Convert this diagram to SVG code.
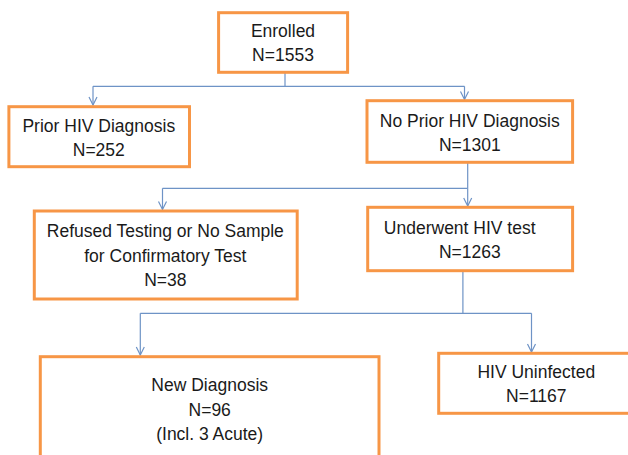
<svg xmlns="http://www.w3.org/2000/svg" width="628" height="455" viewBox="0 0 628 455">
<defs>
<style>
.box{fill:#fff;stroke:#F79646;stroke-width:3}
.t{font-family:"Liberation Sans",Arial,sans-serif;font-size:17.5px;fill:#1a1a1a;text-anchor:middle}
.c{fill:none;stroke:#6E93C6;stroke-width:1.2}
</style>
<marker id="ar" viewBox="0 0 12 12" refX="11" refY="6" markerWidth="12" markerHeight="12" markerUnits="userSpaceOnUse" orient="auto">
<path d="M3,2 L11,6 L3,10" fill="none" stroke="#6E93C6" stroke-width="1.2"/>
</marker>
</defs>
<rect width="628" height="455" fill="#fff"/>
<g id="connectors">
<path class="c" d="M285,72 V86.3"/>
<path class="c" d="M93,86.3 H464.5"/>
<path class="c" d="M93,86.3 V105" marker-end="url(#ar)"/>
<path class="c" d="M464.5,86.3 V99.5" marker-end="url(#ar)"/>
<path class="c" d="M467.7,162 V188.3"/>
<path class="c" d="M162.5,188.3 H467.7"/>
<path class="c" d="M162.5,188.3 V209.5" marker-end="url(#ar)"/>
<path class="c" d="M467.7,188.3 V206" marker-end="url(#ar)"/>
<path class="c" d="M462.9,271 V313.3"/>
<path class="c" d="M140.3,313.3 H531.5"/>
<path class="c" d="M140.3,313.3 V355" marker-end="url(#ar)"/>
<path class="c" d="M531.5,313.3 V352" marker-end="url(#ar)"/>
</g>
<g id="enrolled">
<rect class="box" x="218.6" y="12.7" width="129" height="59.6"/>
<text class="t" x="283" y="37.3">Enrolled</text>
<text class="t" x="283" y="61">N=1553</text>
</g>
<g id="prior">
<rect class="box" x="8.9" y="106.7" width="180.6" height="60"/>
<text class="t" x="98.8" y="131.7">Prior HIV Diagnosis</text>
<text class="t" x="98.8" y="156">N=252</text>
</g>
<g id="noprior">
<rect class="box" x="367" y="100.7" width="205.6" height="61.6"/>
<text class="t" x="469.8" y="126.7">No Prior HIV Diagnosis</text>
<text class="t" x="469.8" y="150.7">N=1301</text>
</g>
<g id="refused">
<rect class="box" x="34.3" y="211" width="262.9" height="88"/>
<text class="t" x="165.3" y="237.3">Refused Testing or No Sample</text>
<text class="t" x="165.3" y="261.7">for Confirmatory Test</text>
<text class="t" x="165.3" y="286">N=38</text>
</g>
<g id="underwent">
<rect class="box" x="367.7" y="207.3" width="204.9" height="63.4"/>
<text class="t" x="459.7" y="234">Underwent HIV test</text>
<text class="t" x="469.8" y="258.3">N=1263</text>
</g>
<g id="newdiag">
<rect class="box" x="40.3" y="356.7" width="338.7" height="120"/>
<text class="t" x="209.7" y="390.7">New Diagnosis</text>
<text class="t" x="209.7" y="416">N=96</text>
<text class="t" x="209.7" y="440">(Incl. 3 Acute)</text>
</g>
<g id="uninfected">
<rect class="box" x="438.7" y="353.3" width="200" height="60"/>
<text class="t" x="536.3" y="377.7">HIV Uninfected</text>
<text class="t" x="536.3" y="401.7">N=1167</text>
</g>
</svg>
